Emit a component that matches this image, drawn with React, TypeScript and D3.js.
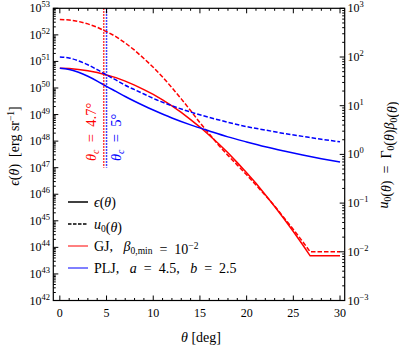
import { useRef, useEffect } from 'react'
import * as d3 from 'd3'

// angles in deg
const gjTheta = [0, 1, 2, 3, 4, 5, 6, 7, 8, 9, 10, 11, 12, 13, 14, 15, 16, 17, 18, 19, 20, 21, 22, 23, 24, 25, 26, 26.8, 28, 30]
// log10 of epsilon and u0 for the gaussian jet
const gjEpsLog = [50.74, 50.73, 50.70, 50.65, 50.58, 50.49, 50.39, 50.26, 50.11, 49.94, 49.76, 49.55, 49.33, 49.08, 48.81, 48.53, 48.22, 47.90, 47.56, 47.19, 46.81, 46.41, 45.98, 45.54, 45.08, 44.60, 44.10, 43.68, 43.68, 43.68]
const gjULog = [2.77, 2.76, 2.73, 2.68, 2.61, 2.52, 2.42, 2.29, 2.14, 1.97, 1.79, 1.59, 1.37, 1.14, 0.90, 0.65, 0.42, 0.19, -0.02, -0.22, -0.42, -0.63, -0.84, -1.06, -1.30, -1.54, -1.79, -2.0, -2.0, -2.0]

const pljTheta = [0, 1, 2, 3, 4, 5, 6, 7, 8, 9, 10, 12, 14, 16, 18, 20, 22, 24, 26, 28, 30]
const pljEpsLog = [50.74, 50.70, 50.59, 50.44, 50.26, 50.06, 49.87, 49.68, 49.50, 49.33, 49.17, 48.87, 48.61, 48.38, 48.16, 47.97, 47.79, 47.63, 47.48, 47.34, 47.21]
const pljULog = [2.00, 1.98, 1.92, 1.84, 1.74, 1.63, 1.53, 1.42, 1.33, 1.24, 1.15, 1.00, 0.87, 0.76, 0.66, 0.57, 0.50, 0.43, 0.37, 0.31, 0.26]

const coreAngles = [4.7, 5]
const xTicks = [0, 5, 10, 15, 20, 25, 30]
const leftExps = [42, 43, 44, 45, 46, 47, 48, 49, 50, 51, 52, 53]
const rightExps = [-3, -2, -1, 0, 1, 2, 3]

const RED = '#ff0000'
const BLUE = '#0000ff'
const FONT = 'Liberation Serif, DejaVu Serif, serif'
const SP = '\u00a0'

const App = () => {
  const ref = useRef(null)

  useEffect(() => {
    const svg = d3.select(ref.current)
    svg.selectAll('*').remove()

    const left = 53.3, right = 344.7, top = 8.3, bottom = 300.5

    const x = d3.scaleLinear().domain([-0.7, 30.5]).range([left, right])
    const yL = d3.scaleLog().domain([1e42, 1e53]).range([bottom, top])
    const yR = d3.scaleLog().domain([1e-3, 1e3]).range([bottom, top])

    const g = svg.append('g')

    const it = (sel, s) => sel.append('tspan').attr('font-style', 'italic').text(s)
    const sub = (sel, s, fs = 9.5) => {
      sel.append('tspan').attr('font-size', fs).attr('dy', 3).text(s)
      sel.append('tspan').attr('dy', -3).text('')
    }
    const eq = ' ' + SP + '=' + SP + ' '

    // curves
    const series = [
      { th: gjTheta, v: gjEpsLog, y: yL, color: RED, dash: null },
      { th: gjTheta, v: gjULog, y: yR, color: RED, dash: '4.5,2' },
      { th: pljTheta, v: pljEpsLog, y: yL, color: BLUE, dash: null },
      { th: pljTheta, v: pljULog, y: yR, color: BLUE, dash: '4.5,2' },
    ]
    series.forEach(s => {
      const pts = s.th.map((t, i) => [t, Math.pow(10, s.v[i])])
      const line = d3.line()
        .x(d => x(d[0]))
        .y(d => s.y(d[1]))
        .curve(s.color === RED ? d3.curveLinear : d3.curveMonotoneX)
      g.append('path')
        .datum(pts)
        .attr('d', line)
        .attr('fill', 'none')
        .attr('stroke', s.color)
        .attr('stroke-width', 1.5)
        .attr('stroke-dasharray', s.dash)
    })

    // core angle lines
    coreAngles.forEach((c, i) => {
      g.append('line')
        .attr('x1', x(c)).attr('x2', x(c))
        .attr('y1', yL(1e53)).attr('y2', yL(1e47))
        .attr('stroke', i === 0 ? RED : BLUE)
        .attr('stroke-width', 1.5)
        .attr('stroke-dasharray', '1.5,1.5')
    })

    // rotated annotations
    const ann = [
      { c: coreAngles[0], dx: -7.5, color: RED, val: '4.7' },
      { c: coreAngles[1], dx: 14, color: BLUE, val: '5' },
    ]
    ann.forEach(a => {
      const t = g.append('text')
        .attr('transform', `translate(${x(a.c) + a.dx}, 161) rotate(-90)`)
        .attr('fill', a.color)
        .attr('font-family', FONT)
        .attr('font-size', 14.5)
      it(t, 'θ')
      t.append('tspan').attr('font-style', 'italic').attr('font-size', 10).attr('dy', 3).text('c')
      t.append('tspan').attr('dy', -3).text(eq + a.val + '°')
    })

    // frame
    g.append('rect')
      .attr('x', left).attr('y', top)
      .attr('width', right - left).attr('height', bottom - top)
      .attr('fill', 'none').attr('stroke', 'black').attr('stroke-width', 1.2)

    const ticks = g.append('g').attr('stroke', 'black').attr('stroke-width', 1)

    // x ticks, bottom and top
    d3.range(0, 31).forEach(t => {
      const len = t % 5 === 0 ? 5 : 2.5
      ticks.append('line').attr('x1', x(t)).attr('x2', x(t)).attr('y1', bottom).attr('y2', bottom - len)
      ticks.append('line').attr('x1', x(t)).attr('x2', x(t)).attr('y1', top).attr('y2', top + len)
    })
    xTicks.forEach(t => {
      g.append('text')
        .attr('x', x(t)).attr('y', 317)
        .attr('text-anchor', 'middle')
        .attr('font-family', FONT).attr('font-size', 12)
        .text(t)
    })

    // left log ticks
    leftExps.forEach(e => {
      ticks.append('line').attr('x1', left).attr('x2', left + 5).attr('y1', yL(Math.pow(10, e))).attr('y2', yL(Math.pow(10, e)))
      if (e < 53) {
        d3.range(2, 10).forEach(k => {
          const yy = yL(k * Math.pow(10, e))
          ticks.append('line').attr('x1', left).attr('x2', left + 2.5).attr('y1', yy).attr('y2', yy)
        })
      }
      const t = g.append('text')
        .attr('x', 50).attr('y', yL(Math.pow(10, e)) + 4)
        .attr('text-anchor', 'end')
        .attr('font-family', FONT).attr('font-size', 12)
      t.append('tspan').text('10')
      t.append('tspan').attr('font-size', 8.5).attr('dy', -5).text(e)
    })

    // right log ticks
    rightExps.forEach(e => {
      const yy0 = yR(Math.pow(10, e))
      ticks.append('line').attr('x1', right).attr('x2', right - 5).attr('y1', yy0).attr('y2', yy0)
      if (e < 3) {
        d3.range(2, 10).forEach(k => {
          const yy = yR(k * Math.pow(10, e))
          ticks.append('line').attr('x1', right).attr('x2', right - 2.5).attr('y1', yy).attr('y2', yy)
        })
      }
      const t = g.append('text')
        .attr('x', 347.5).attr('y', yy0 + 4)
        .attr('font-family', FONT).attr('font-size', 12)
      t.append('tspan').text('10')
      t.append('tspan').attr('font-size', 8.5).attr('dy', -5).text(String(e).replace('-', '−'))
    })

    // axis labels
    const xl = g.append('text')
      .attr('x', (left + right) / 2 + 2).attr('y', 342)
      .attr('text-anchor', 'middle')
      .attr('font-family', FONT).attr('font-size', 14)
    it(xl, 'θ')
    xl.append('tspan').text(SP + '[deg]')

    const yl = g.append('text')
      .attr('transform', `translate(19, 146) rotate(-90)`)
      .attr('text-anchor', 'middle')
      .attr('font-family', FONT).attr('font-size', 14)
    it(yl, 'ϵ')
    yl.append('tspan').text('(')
    it(yl, 'θ')
    yl.append('tspan').text(')' + SP + SP + '[erg' + SP + 'sr')
    yl.append('tspan').attr('font-size', 9.5).attr('dy', -5).text('−1')
    yl.append('tspan').attr('dy', 5).text(']')

    const yr = g.append('text')
      .attr('transform', `translate(387.5, 155) rotate(-90)`)
      .attr('text-anchor', 'middle')
      .attr('font-family', FONT).attr('font-size', 14)
    it(yr, 'u'); sub(yr, '0'); yr.append('tspan').text('('); it(yr, 'θ'); yr.append('tspan').text(')' + eq + 'Γ')
    sub(yr, '0'); yr.append('tspan').text('('); it(yr, 'θ'); yr.append('tspan').text(')'); it(yr, 'β')
    sub(yr, '0'); yr.append('tspan').text('('); it(yr, 'θ'); yr.append('tspan').text(')')

    // legend
    const leg = g.append('g')
    const rows = [202, 224, 246, 268]
    const legLines = [
      { color: 'black', dash: null },
      { color: 'black', dash: '3.5,1.5' },
      { color: RED, dash: null },
      { color: BLUE, dash: null },
    ]
    legLines.forEach((l, i) => {
      leg.append('line')
        .attr('x1', 68).attr('x2', 88)
        .attr('y1', rows[i]).attr('y2', rows[i])
        .attr('stroke', l.color).attr('stroke-width', l.color === 'black' ? 1.5 : 1)
        .attr('stroke-dasharray', l.dash)
    })
    const lt = (i) => leg.append('text')
      .attr('x', 94).attr('y', rows[i] + 4.5)
      .attr('font-family', FONT).attr('font-size', 14)
    const t0 = lt(0)
    it(t0, 'ϵ'); t0.append('tspan').text('('); it(t0, 'θ'); t0.append('tspan').text(')')
    const t1 = lt(1)
    it(t1, 'u'); sub(t1, '0'); t1.append('tspan').text('('); it(t1, 'θ'); t1.append('tspan').text(')')
    const t2 = lt(2)
    t2.append('tspan').text('GJ,' + SP + SP + SP)
    it(t2, 'β'); sub(t2, '0,min'); t2.append('tspan').text(eq + '10')
    t2.append('tspan').attr('font-size', 9.5).attr('dy', -5).text('−2')
    const t3 = lt(3)
    t3.append('tspan').text('PLJ,' + SP + SP + SP)
    it(t3, 'a'); t3.append('tspan').text(eq + '4.5,' + SP + SP + ' '); it(t3, 'b'); t3.append('tspan').text(eq + '2.5')
  }, [])

  return (
    <svg ref={ref} width={399} height={354} style={{ position: 'absolute', left: 0, top: 0 }}></svg>
  )
}

export default App
